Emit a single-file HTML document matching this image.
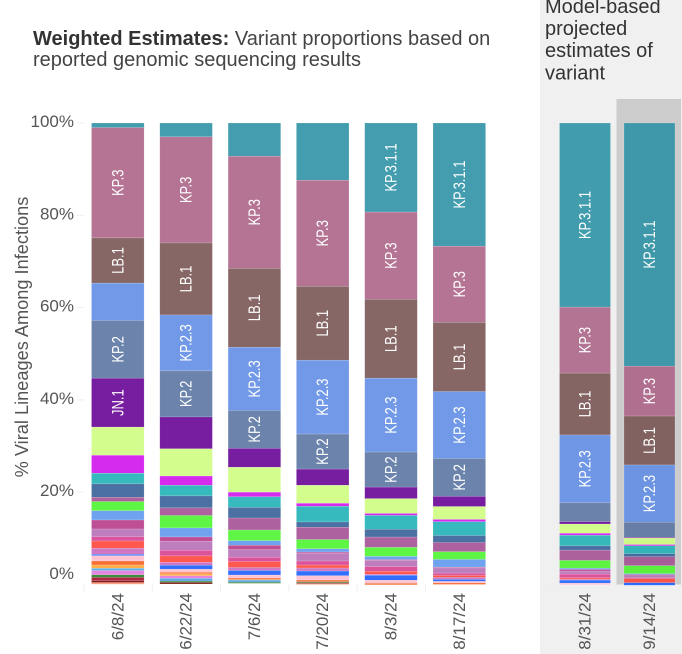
<!DOCTYPE html>
<html lang="en">
<head>
<meta charset="utf-8">
<title>Variant proportions</title>
<style>
html,body{margin:0;padding:0;background:#fff;width:682px;height:654px;overflow:hidden}
svg{display:block;font-family:"Liberation Sans",Arial,sans-serif}
</style>
</head>
<body>
<svg id="chart" width="682" height="654" viewBox="0 0 682 654" xmlns="http://www.w3.org/2000/svg">
  <rect x="540" y="0" width="142" height="654" fill="#f0f0f0"/>
  <rect x="616.5" y="99" width="64.5" height="485.5" fill="#cccccc"/>
  <text x="33" y="45" font-size="20" fill="#444"><tspan font-weight="bold" fill="#333">Weighted Estimates:</tspan> Variant proportions based on</text>
  <text x="33" y="66" font-size="20" fill="#444">reported genomic sequencing results</text>
  <text font-size="20" fill="#333">
    <tspan x="545" y="13">Model-based</tspan>
    <tspan x="545" y="35">projected</tspan>
    <tspan x="545" y="57">estimates of</tspan>
    <tspan x="545" y="79.5">variant</tspan>
  </text>
  <text transform="translate(28 337) rotate(-90)" text-anchor="middle" font-size="18.2" fill="#555">% Viral Lineages Among Infections</text>
  <g id="axes"></g>
  <g id="bars"></g>
</svg>
<script>
var dates = ["6/8/24","6/22/24","7/6/24","7/20/24","8/3/24","8/17/24","8/31/24","9/14/24"];
var yTicks = [100,80,60,40,20,0];

var seriesNames = ["KP.3.1.1","KP.3","LB.1","KP.2.3","KP.2","JN.1","","","","","","","","","","","","","","","","","","","","","","",""];
var seriesColors = ["#449eaf","#b57595","#866866","#7299e8","#6d85ad","#781ea0","#d4fe8e","#d62cf0","#38bbbd","#4c72a4","#ae629f","#5ff545","#70a4f0","#c05096","#bf7fbf","#dc549c","#ff5a50","#cf78c4","#3370ff","#ffc4d4","#f57038","#ffb048","#60b0e8","#e884e0","#60a8e8","#3c8c3c","#b02840","#801818","#ff9e80"];

var kp3_1_1 = [1.0,3.0,7.2,12.4,19.3,26.7,39.9,52.7];
var kp3     = [23.9,23.0,24.3,23.0,18.9,16.5,14.3,10.8];
var lb1     = [9.8,15.6,17.1,16.0,17.1,15.0,13.4,10.6];
var kp2_3   = [8.1,12.1,13.7,16.0,16.0,14.5,14.7,12.4];
var kp2     = [12.5,10.0,8.2,7.6,7.6,8.2,4.1,3.3];
var jn1     = [10.6,6.9,4.1,3.5,2.5,2.2,0.5,0.15];
var lime    = [6.1,5.9,5.4,3.9,3.2,2.8,2.0,1.4];
var magenta = [3.9,2.0,1.0,0.65,0.43,0.5,0.43,0.28];
var teal    = [2.3,2.3,2.3,3.4,3.0,3.0,2.3,1.7];
var steel   = [2.9,2.6,2.3,1.15,1.7,1.5,0.93,0.65];
var mauve   = [0.93,1.65,2.6,2.67,2.23,2.0,2.23,1.95];
var green   = [2.0,2.7,2.3,2.0,1.95,1.67,1.67,1.73];
var ltblue  = [2.0,1.95,1.0,0.7,0.7,1.67,0.28,0.22];
var rose    = [1.95,0.93,0.93,0.22,0.15,0.17,0.37,0.22];
var orchid  = [1.67,1.95,1.67,1.73,1.37,1.13,0.65,0.43];
var pink    = [0.93,1.23,0.93,0.87,1.0,0.5,0.8,0.22];
var coral   = [1.58,1.37,1.3,0.65,0.65,0.43,0.28,0.87];
var orchid2 = [1.3,0.65,0.65,0.65,0.22,0.43,0.22,0];
var blue    = [0.3,0.87,0.98,1.02,1.08,0.43,0.65,0.54];
var ltpink  = [1.15,0.65,0.65,0.93,0.65,0.33,0.33,0];
var orange  = [0.87,0.33,0.33,0.37,0.33,0.33,0,0];
var amber   = [0.72,0.43,0.11,0,0,0,0,0];
var sky     = [0.5,0,0,0,0,0,0,0];
var violet  = [0.9,0.55,0,0,0,0,0,0];
var sky2    = [0,0.6,0.45,0,0,0,0,0];
var green2  = [0.58,0.3,0.25,0.2,0,0,0,0];
var crimson = [0.72,0,0,0,0,0,0,0];
var darkred = [0.37,0.33,0,0.2,0,0,0,0];
var salmon  = [0.37,0,0,0.2,0,0,0,0];

var seriesValues = [kp3_1_1,kp3,lb1,kp2_3,kp2,jn1,lime,magenta,teal,steel,mauve,green,ltblue,rose,orchid,pink,coral,orchid2,blue,ltpink,orange,amber,sky,violet,sky2,green2,crimson,darkred,salmon];

var NS = "http://www.w3.org/2000/svg";
var plotTop = 123, plotBottom = 584.5;

function yScale(v) { return plotBottom - (v / 100) * (plotBottom - plotTop); }
function barLeft(i) { return i < 6 ? 91.5 + i * 68.3 : 559.5 + (i - 6) * 64.5; }
function barWidth(i) { return i < 6 ? 52.6 : 51; }
function boundary(i) { return i < 6 ? 84 + i * 68.3 : 552 + (i - 6) * 64.5; }
function underlay(hex) {
  var out = "#";
  for (var k = 1; k < 7; k += 2) {
    var v = parseInt(hex.substr(k, 2), 16);
    var c = Math.max(0, Math.min(255, Math.round((v - 25.5) / 0.9)));
    out += (c < 16 ? "0" : "") + c.toString(16);
  }
  return out;
}
function make(tag, attrs, parent) {
  var el = document.createElementNS(NS, tag);
  for (var key in attrs) { el.setAttribute(key, attrs[key]); }
  parent.appendChild(el);
  return el;
}

var axes = document.getElementById("axes");
var barsRoot = document.getElementById("bars");

yTicks.forEach(function (t) {
  var y = yScale(t);
  if (t !== 0) {
    var tick = make("line", {x1: 77, x2: 84, y1: y, y2: y, stroke: "#eeeeee"}, axes);
    
    
  }
  var labelY = t === 0 ? y - 5.5 : y + 4;
  var lab = make("text", {x: 74, y: labelY, "text-anchor": "end", "font-size": 17, fill: "#555"}, axes);
  lab.textContent = t + "%";
  
  
});

dates.forEach(function (d, i) {
  var tx = boundary(i);
  var tk = make("line", {x1: tx, x2: tx, y1: plotBottom, y2: plotBottom + 7, stroke: "#eeeeee"}, axes);
  
  
  var cx = barLeft(i) + barWidth(i) / 2 - 0.5;
  var lab = make("text", {transform: "translate(" + (cx + 6) + " 593) rotate(-90)", "text-anchor": "end", "font-size": 17, fill: "#555"}, axes);
  lab.textContent = d;
  
  

  var g = make("g", {}, barsRoot);
  
  
  var cum = 100;
  seriesValues.forEach(function (vals, s) {
    var v = vals[i];
    if (!v) { return; }
    var y0 = yScale(cum), y1 = yScale(cum - v);
    cum -= v;
    var r = make("rect", {x: barLeft(i), y: y0, width: barWidth(i), height: y1 - y0, fill: underlay(seriesColors[s]), opacity: 0.9, stroke: "#ffffff", "stroke-opacity": 0.3, "stroke-width": 0.5}, g);
    
    
    var name = seriesNames[s];
    if (name && (y1 - y0) >= name.length * 6.6 + 8) {
      var mid = (y0 + y1) / 2;
      var tl = make("text", {transform: "translate(" + (cx + 6) + " " + mid + ") rotate(-90) scale(1 1.25)", "text-anchor": "middle", "font-size": 13, fill: "#fff"}, g);
      tl.textContent = name;
      
      
    }
  });
});
</script>
</body>
</html>
